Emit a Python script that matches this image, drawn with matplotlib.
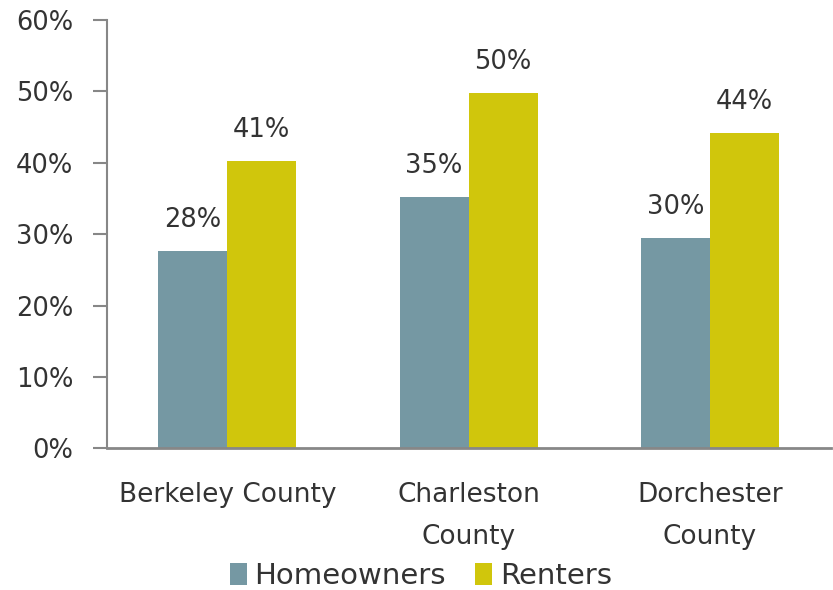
import matplotlib
matplotlib.use("Agg")
import matplotlib.pyplot as plt
import numpy as np
from matplotlib.ticker import FuncFormatter

categories = ["Berkeley County", "Charleston\nCounty", "Dorchester\nCounty"]
series_names = ["Homeowners", "Renters"]
homeowners = [27.7, 35.2, 29.5]
renters = [40.2, 49.8, 44.2]
homeowner_labels = ["28%", "35%", "30%"]
renter_labels = ["41%", "50%", "44%"]
yticks = [0, 10, 20, 30, 40, 50, 60]

colors = ["#7598A3", "#D0C60C"]
text_color = "#333333"
axis_color = "#878787"

plt.rcParams['font.family'] = ['DejaVu Sans']

fig = plt.figure(figsize=(8.33, 5.90), dpi=100)
ax = fig.add_axes([0.128, 0.240, 0.869, 0.726])

x = np.arange(len(categories))
w = 0.286
b1 = ax.bar(x - w/2, homeowners, w, color=colors[0], label=series_names[0])
b2 = ax.bar(x + w/2, renters, w, color=colors[1], label=series_names[1])

for bars, labs in ((b1, homeowner_labels), (b2, renter_labels)):
    for rect, lab in zip(bars, labs):
        ax.annotate(lab, (rect.get_x() + rect.get_width()/2, rect.get_height()),
                    xytext=(0, 13), textcoords="offset points",
                    ha="center", va="bottom", fontsize=18.5, color=text_color)

ax.set_ylim(0, 60)
ax.set_xlim(-0.50, 2.50)
ax.set_yticks(yticks)
ax.yaxis.set_major_formatter(FuncFormatter(lambda v, p: f"{int(v)}%"))
ax.set_xticks(x)
ax.set_xticklabels(categories, linespacing=1.8)

for s in ("top", "right"):
    ax.spines[s].set_visible(False)
for s in ("left", "bottom"):
    ax.spines[s].set_color(axis_color)
    ax.spines[s].set_linewidth(1.5)
ax.spines["bottom"].set_linewidth(2)

ax.tick_params(axis="y", length=10, width=1.5, color=axis_color, labelsize=18.5,
               labelcolor=text_color, pad=14)
ax.tick_params(axis="x", length=0, labelsize=19, labelcolor=text_color, pad=24)

leg = fig.legend(loc="lower center", bbox_to_anchor=(0.505, -0.045), ncol=2, frameon=False,
                 fontsize=21, handlelength=0.6, handleheight=0.8, handletextpad=0.25,
                 columnspacing=1.0)
for t in leg.get_texts():
    t.set_color(text_color)

fig.savefig("out.png", dpi=100)
